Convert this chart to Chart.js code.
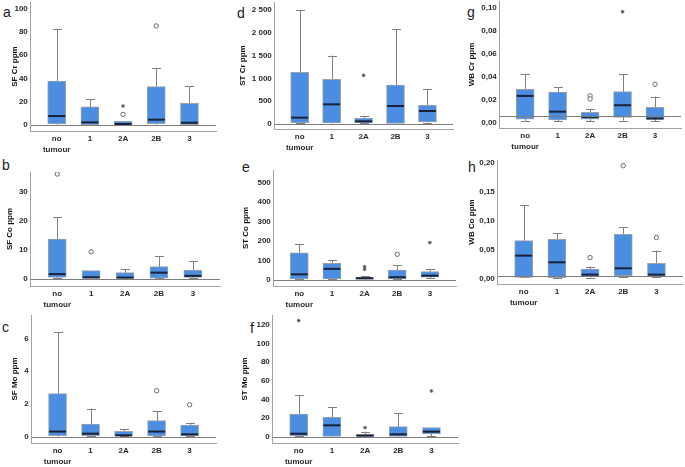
<!DOCTYPE html>
<html>
<head>
<meta charset="utf-8">
<script src="https://cdn.jsdelivr.net/npm/chart.js@4.4.0/dist/chart.umd.min.js"></script>
<style>
html, body { margin: 0; padding: 0; background: #fff; }
body { width: 685px; height: 467px; position: relative; overflow: hidden; font-family: 'Liberation Sans', Arial, sans-serif; }
canvas { position: absolute; }
.tag { position: absolute; font-size: 14px; line-height: 14px; color: #222; }
</style>
</head>
<body>
<div class="tag" style="left:3px;top:5px">a</div>
<div class="tag" style="left:237px;top:6px">d</div>
<div class="tag" style="left:467px;top:5px">g</div>
<div class="tag" style="left:2px;top:158px">b</div>
<div class="tag" style="left:242px;top:160px">e</div>
<div class="tag" style="left:468px;top:160px">h</div>
<div class="tag" style="left:2px;top:320px">c</div>
<div class="tag" style="left:250px;top:321px">f</div>
<script>
const categories = ['no tumour', '1', '2A', '2B', '3']
const xLabels = [['no', 'tumour'], '1', '2A', '2B', '3']

// SF Cr ppm
const sfCrMin = [0.3, 0, 0, 0.3, 0]
const sfCrQ1 = [0.9, 0.3, 0.3, 1.1, 0.3]
const sfCrMed = [7.7, 2.3, 0.9, 4.6, 2]
const sfCrQ3 = [37.7, 15.7, 3.1, 32.9, 18.6]
const sfCrMax = [82.3, 22, 3.1, 48.6, 33.4]
const sfCrCircles = [{x: 2, y: 9.1}, {x: 3, y: 84.9}]
const sfCrStars = [{x: 2, y: 16.3}]
const sfCrTicks = [0, 20, 40, 60, 80, 100]
const sfCrTickLabels = ['0', '20', '40', '60', '80', '100']

// ST Cr ppm
const stCrMin = [15, 10, 15, 10, 29]
const stCrQ1 = [29, 22, 22, 15, 44]
const stCrMed = [139, 431, 58, 395, 285]
const stCrQ3 = [1133, 980, 124, 855, 409]
const stCrMax = [2500, 1499, 175, 2076, 760]
const stCrCircles = []
const stCrStars = [{x: 2, y: 1067}]
const stCrTicks = [0, 500, 1000, 1500, 2000, 2500]
const stCrTickLabels = ['0', '500', '1 000', '1 500', '2 000', '2 500']

// WB Cr ppm
const wbCrMin = [0.0023, 0.002, 0.002, 0.0023, 0.002]
const wbCrQ1 = [0.0035, 0.0029, 0.0035, 0.0052, 0.0035]
const wbCrMed = [0.0238, 0.0101, 0.0055, 0.0157, 0.0041]
const wbCrQ3 = [0.0296, 0.0272, 0.0096, 0.0275, 0.0139]
const wbCrMax = [0.0429, 0.0313, 0.0125, 0.0429, 0.0232]
const wbCrCircles = [{x: 2, y: 0.0238}, {x: 2, y: 0.0212}, {x: 4, y: 0.0339}]
const wbCrStars = [{x: 3, y: 0.097}]
const wbCrTicks = [0, 0.02, 0.04, 0.06, 0.08, 0.1]
const wbCrTickLabels = ['0,00', '0,02', '0,04', '0,06', '0,08', '0,10']

// SF Co ppm
const sfCoMin = [0.3, 0.1, 0.1, 0.2, 0.2]
const sfCoQ1 = [0.6, 0.2, 0.2, 0.3, 0.6]
const sfCoMed = [1.7, 0.6, 0.5, 2.2, 1.1]
const sfCoQ3 = [13.8, 2.9, 2.2, 4.3, 3.1]
const sfCoMax = [21.3, 2.9, 3.4, 7.9, 6.2]
const sfCoCircles = [{x: 0, y: 36.2}, {x: 1, y: 9.4}]
const sfCoStars = []
const sfCoTicks = [0, 10, 20, 30]
const sfCoTickLabels = ['0', '10', '20', '30']

// ST Co ppm
const stCoMin = [3, 3, 2, 3, 9]
const stCoQ1 = [5, 5, 3, 5, 14]
const stCoMed = [29, 57, 9, 14, 22]
const stCoQ3 = [140, 86, 14, 51, 43]
const stCoMax = [185, 101, 21, 77, 55]
const stCoCircles = [{x: 3, y: 132}]
const stCoStars = [{x: 2, y: 68}, {x: 2, y: 55}, {x: 4, y: 192}]
const stCoTicks = [0, 100, 200, 300, 400, 500]
const stCoTickLabels = ['0', '100', '200', '300', '400', '500']

// WB Co ppm
const wbCoMin = [0.0029, 0.0023, 0.0023, 0.0034, 0.0029]
const wbCoQ1 = [0.0029, 0.0023, 0.004, 0.0057, 0.0052]
const wbCoMed = [0.0402, 0.0287, 0.0075, 0.0184, 0.0075]
const wbCoQ3 = [0.0661, 0.0684, 0.0172, 0.077, 0.027]
const wbCoMax = [0.1264, 0.0787, 0.0213, 0.0891, 0.0489]
const wbCoCircles = [{x: 2, y: 0.0368}, {x: 3, y: 0.1948}, {x: 4, y: 0.0713}]
const wbCoStars = []
const wbCoTicks = [0, 0.05, 0.1, 0.15, 0.2]
const wbCoTickLabels = ['0,00', '0,05', '0,10', '0,15', '0,20']

// SF Mo ppm
const sfMoMin = [0, 0.02, 0.02, 0.02, 0.02]
const sfMoQ1 = [0.06, 0.06, 0.04, 0.04, 0.04]
const sfMoMed = [0.31, 0.18, 0.08, 0.31, 0.14]
const sfMoQ3 = [2.63, 0.76, 0.33, 0.98, 0.7]
const sfMoMax = [6.4, 1.72, 0.45, 1.58, 0.86]
const sfMoCircles = [{x: 3, y: 2.81}, {x: 4, y: 1.95}]
const sfMoStars = []
const sfMoTicks = [0, 2, 4, 6]
const sfMoTickLabels = ['0', '2', '4', '6']

// ST Mo ppm
const stMoMin = [0.3, 0, 0, 0, 0.4]
const stMoQ1 = [0.7, 0.4, 0.4, 0.4, 2.9]
const stMoMed = [3.2, 12.2, 1.1, 2.5, 5.4]
const stMoQ3 = [24.4, 20.8, 2.5, 10.8, 9.7]
const stMoMax = [44.4, 31.5, 5.4, 25.1, 9.7]
const stMoCircles = []
const stMoStars = [{x: 0, y: 124.7}, {x: 2, y: 9.7}, {x: 4, y: 49.1}]
const stMoTicks = [0, 20, 40, 60, 80, 100, 120]
const stMoTickLabels = ['0', '20', '40', '60', '80', '100', '120']

const boxFill = '#4b8ee1'
const boxEdge = '#98a2ae'
const whiskerColor = '#808080'
const medianColor = '#18213a'
const axisColor = '#a3a3a3'
const refColor = '#7d7d7d'
const textColor = '#2a2a2a'

Chart.defaults.font.family = "'Liberation Sans', Arial, sans-serif"

// panel placement on the page (axis line x, plot top/bottom/right, y title centre)
const panels = [
    {title: 'SF Cr ppm', min: sfCrMin, q1: sfCrQ1, med: sfCrMed, q3: sfCrQ3, max: sfCrMax, circles: sfCrCircles, stars: sfCrStars, ticks: sfCrTicks, tickLabels: sfCrTickLabels, ref: 0,
     axisX: 31, top: 2, bottom: 131, right: 218, titleX: 15, yMin: -5.1, yMax: 105.4},
    {title: 'ST Cr ppm', min: stCrMin, q1: stCrQ1, med: stCrMed, q3: stCrQ3, max: stCrMax, circles: stCrCircles, stars: stCrStars, ticks: stCrTicks, tickLabels: stCrTickLabels, ref: 0,
     axisX: 275, top: 2, bottom: 129, right: 455, titleX: 243, yMin: -110, yMax: 2675},
    {title: 'WB Cr ppm', min: wbCrMin, q1: wbCrQ1, med: wbCrMed, q3: wbCrQ3, max: wbCrMax, circles: wbCrCircles, stars: wbCrStars, ticks: wbCrTicks, tickLabels: wbCrTickLabels, ref: 0.0063,
     axisX: 500, top: 1, bottom: 128, right: 683, titleX: 472, yMin: -0.0041, yMax: 0.1063},
    {title: 'SF Co ppm', min: sfCoMin, q1: sfCoQ1, med: sfCoMed, q3: sfCoQ3, max: sfCoMax, circles: sfCoCircles, stars: sfCoStars, ticks: sfCoTicks, tickLabels: sfCoTickLabels, ref: 0,
     axisX: 31, top: 172, bottom: 286, right: 222, titleX: 10, yMin: -2.4, yMax: 36.9},
    {title: 'ST Co ppm', min: stCoMin, q1: stCoQ1, med: stCoMed, q3: stCoQ3, max: stCoMax, circles: stCoCircles, stars: stCoStars, ticks: stCoTicks, tickLabels: stCoTickLabels, ref: 0,
     axisX: 274, top: 170, bottom: 286, right: 458, titleX: 246, yMin: -31, yMax: 565},
    {title: 'WB Co ppm', min: wbCoMin, q1: wbCoQ1, med: wbCoMed, q3: wbCoQ3, max: wbCoMax, circles: wbCoCircles, stars: wbCoStars, ticks: wbCoTicks, tickLabels: wbCoTickLabels, ref: 0.0058,
     axisX: 498, top: 160, bottom: 284, right: 685, titleX: 472, yMin: -0.0086, yMax: 0.2046},
    {title: 'SF Mo ppm', min: sfMoMin, q1: sfMoQ1, med: sfMoMed, q3: sfMoQ3, max: sfMoMax, circles: sfMoCircles, stars: sfMoStars, ticks: sfMoTicks, tickLabels: sfMoTickLabels, ref: 0,
     axisX: 32, top: 315, bottom: 443, right: 218, titleX: 15, yMin: -0.39, yMax: 7.44},
    {title: 'ST Mo ppm', min: stMoMin, q1: stMoQ1, med: stMoMed, q3: stMoQ3, max: stMoMax, circles: stMoCircles, stars: stMoStars, ticks: stMoTicks, tickLabels: stMoTickLabels, ref: 0,
     axisX: 273, top: 315, bottom: 443, right: 460, titleX: 245, yMin: -6.8, yMax: 130.7}
]

// whiskers under the boxes, medians and reference line on top
function boxPlot(p) {
    return {
        id: 'boxplot',
        beforeDatasetsDraw(chart) {
            const {ctx, scales: {x, y}} = chart
            ctx.save()
            ctx.strokeStyle = whiskerColor
            ctx.lineWidth = 1
            categories.forEach((_, i) => {
                const cx = Math.round(x.getPixelForValue(i)) + 0.5
                const lo = y.getPixelForValue(p.min[i])
                const hi = y.getPixelForValue(p.max[i])
                ctx.beginPath()
                ctx.moveTo(cx, lo); ctx.lineTo(cx, hi)
                ctx.moveTo(cx - 4.5, Math.round(hi) + 0.5); ctx.lineTo(cx + 4.5, Math.round(hi) + 0.5)
                ctx.moveTo(cx - 4.5, Math.round(lo) + 0.5); ctx.lineTo(cx + 4.5, Math.round(lo) + 0.5)
                ctx.stroke()
            })
            ctx.restore()
        },
        afterDatasetsDraw(chart) {
            const {ctx, chartArea, scales: {y}} = chart
            const bars = chart.getDatasetMeta(0).data
            ctx.save()
            ctx.strokeStyle = medianColor
            ctx.lineWidth = 2
            bars.forEach((bar, i) => {
                const my = y.getPixelForValue(p.med[i])
                ctx.beginPath()
                ctx.moveTo(bar.x - bar.width / 2 + 0.5, my)
                ctx.lineTo(bar.x + bar.width / 2 - 0.5, my)
                ctx.stroke()
            })
            const ry = Math.round(y.getPixelForValue(p.ref)) + 0.5
            ctx.strokeStyle = refColor
            ctx.lineWidth = 1
            ctx.beginPath()
            ctx.moveTo(chartArea.left, ry)
            ctx.lineTo(chartArea.right, ry)
            ctx.stroke()
            ctx.restore()
        }
    }
}

function makePanel(p) {
    const padTop = 8, padRight = 3, xH = 30
    const left = p.titleX - 4.8
    const top = p.top - padTop
    const w = Math.round(p.right + padRight - left)
    const h = Math.round(p.bottom - top + xH)
    const cv = document.createElement('canvas')
    cv.width = w
    cv.height = h
    cv.style.left = left + 'px'
    cv.style.top = top + 'px'
    cv.style.width = w + 'px'
    cv.style.height = h + 'px'
    document.body.appendChild(cv)

    new Chart(cv, {
        type: 'bar',
        data: {
            datasets: [
                {
                    data: categories.map((c, i) => ({x: i, y: [p.q1[i], p.q3[i]]})),
                    backgroundColor: boxFill,
                    borderColor: boxEdge,
                    borderWidth: 1,
                    borderSkipped: false,
                    barThickness: 18
                },
                {
                    type: 'scatter',
                    data: p.circles,
                    pointStyle: 'circle',
                    radius: 2.2,
                    borderWidth: 1,
                    borderColor: '#6a6a6a',
                    backgroundColor: '#fff'
                },
                {
                    type: 'scatter',
                    data: p.stars,
                    pointStyle: 'star',
                    radius: 1.8,
                    borderWidth: 1,
                    borderColor: '#555'
                }
            ]
        },
        options: {
            responsive: false,
            animation: false,
            layout: { padding: { top: padTop, right: padRight, left: 0, bottom: 0 } },
            plugins: { legend: { display: false }, tooltip: { enabled: false } },
            scales: {
                x: {
                    type: 'linear',
                    offset: false,
                    min: -0.78,
                    max: 4.8,
                    grid: { display: false, drawTicks: false, offset: false },
                    border: { color: axisColor },
                    afterBuildTicks: s => { s.ticks = categories.map((_, i) => ({value: i})) },
                    afterFit: s => { s.height = xH },
                    ticks: {
                        callback: v => xLabels[v],
                        font: { size: 8, weight: 'bold', lineHeight: 1.3 },
                        color: textColor,
                        padding: 3,
                        maxRotation: 0,
                        autoSkip: false
                    }
                },
                y: {
                    min: p.yMin,
                    max: p.yMax,
                    grid: { display: false, drawTicks: false },
                    border: { color: axisColor },
                    afterBuildTicks: s => { s.ticks = p.ticks.map(v => ({value: v})) },
                    afterFit: s => { s.width = p.axisX - left },
                    ticks: {
                        callback: (v, i) => p.tickLabels[i],
                        font: { size: 8, weight: 'bold' },
                        color: textColor,
                        padding: 3
                    },
                    title: {
                        display: true,
                        text: p.title,
                        font: { size: 8, weight: 'bold' },
                        color: '#111',
                        padding: 0
                    }
                }
            }
        },
        plugins: [boxPlot(p)]
    })
}

panels.forEach(makePanel)
</script>
</body>
</html>
